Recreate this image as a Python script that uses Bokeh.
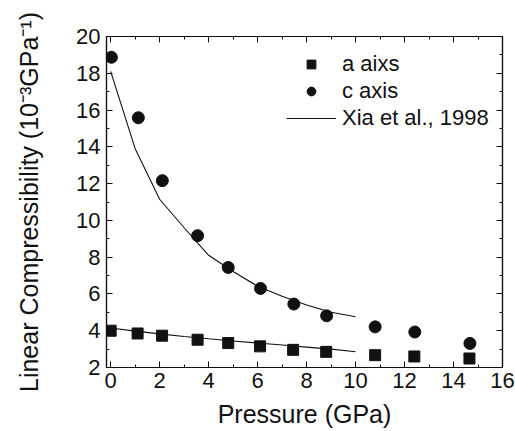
from bokeh.plotting import figure
from bokeh.models import FixedTicker, Range1d, Legend, LegendItem, LinearAxis, CustomJSTickFormatter
from bokeh.embed import file_html
from bokeh.resources import INLINE

# data
a_pressure = [0.0, 1.1, 2.1, 3.55, 4.8, 6.1, 7.45, 8.8, 10.8, 12.4, 14.65]
a_comp = [4.0, 3.85, 3.73, 3.51, 3.33, 3.15, 2.96, 2.85, 2.67, 2.6, 2.49]
c_pressure = [0.03, 1.13, 2.11, 3.55, 4.8, 6.12, 7.48, 8.82, 10.8, 12.42, 14.67]
c_comp = [18.87, 15.58, 12.16, 9.17, 7.44, 6.3, 5.45, 4.81, 4.21, 3.93, 3.31]
xia_pressure = [0, 1, 2, 3, 4, 5, 6, 7, 8, 9, 10]
xia_c = [18.1, 13.9, 11.15, 9.6, 8.1, 7.22, 6.42, 5.87, 5.4, 5.0, 4.76]
xia_a = [4.15, 3.98, 3.83, 3.69, 3.56, 3.44, 3.33, 3.22, 3.11, 3.0, 2.86]
x_ticks = [0, 2, 4, 6, 8, 10, 12, 14, 16]
y_ticks = [2, 4, 6, 8, 10, 12, 14, 16, 18, 20]

FONT = "Liberation Sans"
INK = "#111111"

p = figure(width=515, height=431, output_backend="svg", toolbar_location=None,
           x_range=Range1d(-0.17, 16), y_range=Range1d(2, 20),
           min_border_left=106, min_border_right=13, min_border_top=36, min_border_bottom=64)
p.background_fill_color = "white"
p.border_fill_color = "white"
p.grid.visible = False
p.outline_line_color = INK
p.outline_line_width = 1.2

def style_axis(ax):
    ax.axis_line_color = INK
    ax.axis_line_width = 1.2
    ax.major_tick_in = 6
    ax.major_tick_out = 0
    ax.minor_tick_in = 3
    ax.minor_tick_out = 0
    ax.major_tick_line_color = INK
    ax.minor_tick_line_color = INK
    ax.major_label_text_font = FONT
    ax.major_label_text_font_size = "22px"
    ax.major_label_text_color = INK
    ax.axis_label_text_font = FONT
    ax.axis_label_text_font_size = "25px"
    ax.axis_label_text_font_style = "normal"
    ax.axis_label_text_color = INK

p.xaxis.ticker = FixedTicker(ticks=x_ticks, minor_ticks=list(range(0, 17)))
p.yaxis.ticker = FixedTicker(ticks=y_ticks, minor_ticks=list(range(2, 21)))
for ax in p.xaxis + p.yaxis:
    style_axis(ax)
p.xaxis.axis_label = "Pressure (GPa)"
p.yaxis.axis_label = "Linear Compressibility (10\u207b\u00b3GPa\u207b\u00b9)"
p.xaxis.major_label_standoff = 5
p.xaxis.axis_label_standoff = 9
p.yaxis.major_label_standoff = 6
p.yaxis.axis_label_standoff = 30

blank = CustomJSTickFormatter(code="return ''")
top = LinearAxis(ticker=FixedTicker(ticks=x_ticks, minor_ticks=list(range(0, 17))), formatter=blank)
right = LinearAxis(ticker=FixedTicker(ticks=y_ticks, minor_ticks=list(range(2, 21))), formatter=blank)
for ax in (top, right):
    style_axis(ax)
    ax.major_label_standoff = 0
    ax.major_label_text_font_size = "1px"
p.add_layout(top, "above")
p.add_layout(right, "right")

r_sq = p.scatter(a_pressure, a_comp, marker="square", size=11, color=INK)
r_ci = p.scatter(c_pressure, c_comp, marker="circle", size=12, color=INK)
r_line = p.line(xia_pressure, xia_c, line_color=INK, line_width=1.1)
p.line(xia_pressure, xia_a, line_color=INK, line_width=1.1)

legend = Legend(items=[
    LegendItem(label="a aixs", renderers=[r_sq]),
    LegendItem(label="c axis", renderers=[r_ci]),
    LegendItem(label="Xia et al., 1998", renderers=[r_line]),
], location=(180, 236))
legend.border_line_color = None
legend.background_fill_alpha = 0
legend.padding = 0
legend.margin = 0
legend.spacing = 1
legend.glyph_width = 50
legend.glyph_height = 22
legend.label_height = 22
legend.label_standoff = 6
legend.label_text_font = FONT
legend.label_text_font_size = "22px"
legend.label_text_color = INK
legend.label_text_baseline = "middle"
p.add_layout(legend, "center")

open("out.html", "w").write(file_html(p, INLINE))
